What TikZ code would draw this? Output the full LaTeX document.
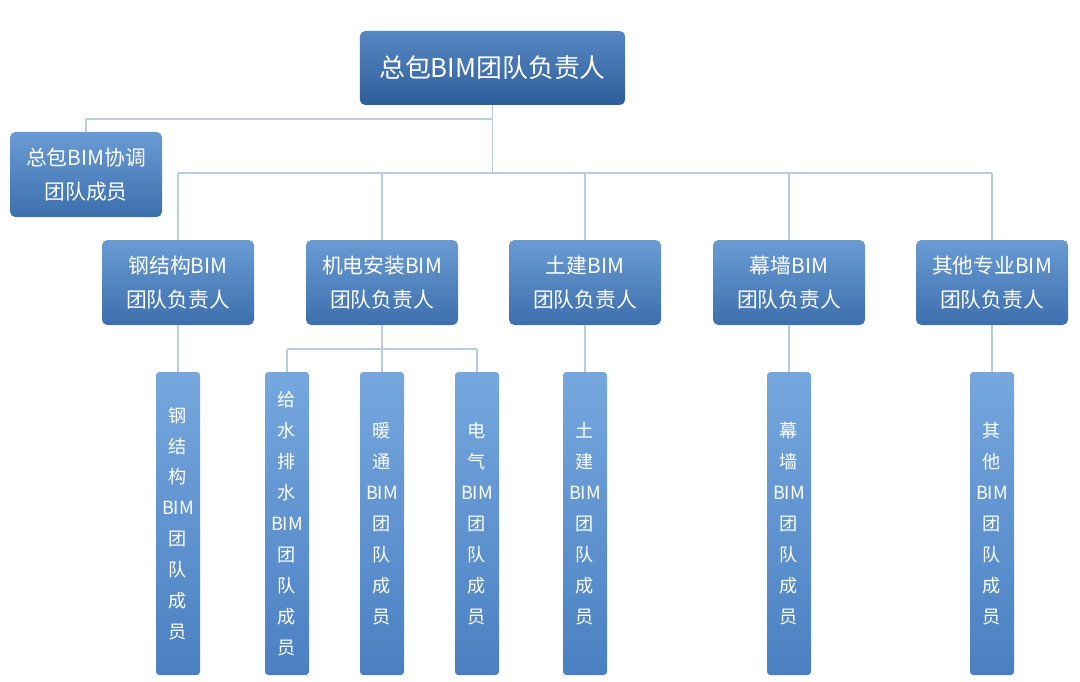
\documentclass[tikz,border=0pt]{standalone}
\usepackage{fontspec}
\usepackage{tikz}
\newfontfamily\cjk{Noto Sans CJK SC}
\definecolor{lineblue}{RGB}{184,205,224}
\definecolor{boxtop}{RGB}{106,155,211}
\definecolor{boxbot}{RGB}{60,111,173}
\definecolor{headtop}{RGB}{88,136,195}
\definecolor{headbot}{RGB}{45,94,154}
\definecolor{bartop}{RGB}{118,167,222}
\definecolor{barbot}{RGB}{74,128,194}
\tikzset{
  link/.style={draw=lineblue,line width=0.8pt},
  headbox/.style={rounded corners=4pt,top color=headtop,bottom color=headbot,draw=none,
    text=white,font=\cjk\fontsize{19.4}{26}\selectfont,minimum width=199pt,minimum height=55.5pt},
  leadbox/.style={rounded corners=4pt,top color=boxtop,bottom color=boxbot,draw=none,
    text=white,font=\cjk\fontsize{15.6}{26}\selectfont,align=center,minimum width=114pt,minimum height=63.75pt},
  memberbar/.style={rounded corners=2.5pt,top color=bartop,bottom color=barbot,draw=none,
    text=white,font=\cjk\fontsize{13.6}{23.2}\selectfont,align=center,minimum width=33pt,minimum height=227.25pt,inner sep=0pt}
}
\begin{document}
\begin{tikzpicture}[x=0.75pt,y=0.75pt,yscale=-1,xscale=1]
\useasboundingbox (0,0) rectangle (1080,681);
% Text Node
\node (head) [headbox] at (492.5,68) {总包BIM团队负责人};
% Text Node
\node (xietiao) [leadbox] at (86,174.5) {总包BIM协调\\团队成员};
% Text Node
\node (gang) [leadbox] at (178,282.5) {钢结构BIM\\团队负责人};
\node (jidian) [leadbox] at (382,282.5) {机电安装BIM\\团队负责人};
\node (tujian) [leadbox] at (585,282.5) {土建BIM\\团队负责人};
\node (muqiang) [leadbox] at (789,282.5) {幕墙BIM\\团队负责人};
\node (qita) [leadbox] at (992,282.5) {其他专业BIM\\团队负责人};
% Text Node
\node (gangm) [memberbar] at (178,523.5) {钢\\结\\构\\BIM\\团\\队\\成\\员};
\node (jishui) [memberbar] at (287,523.5) {给\\水\\排\\水\\BIM\\团\\队\\成\\员};
\node (nuantong) [memberbar] at (382,523.5) {暖\\通\\BIM\\团\\队\\成\\员};
\node (dianqi) [memberbar] at (477,523.5) {电\\气\\BIM\\团\\队\\成\\员};
\node (tujianm) [memberbar] at (585,523.5) {土\\建\\BIM\\团\\队\\成\\员};
\node (muqiangm) [memberbar] at (789,523.5) {幕\\墙\\BIM\\团\\队\\成\\员};
\node (qitam) [memberbar] at (992,523.5) {其\\他\\BIM\\团\\队\\成\\员};
%Straight Lines
\coordinate (jn) at (492.5,119);
\coordinate (busL) at (178,173);
\coordinate (busR) at (992,173);
\coordinate (mepL) at (287,349);
\coordinate (mepR) at (477,349);
\draw [link] (head.south) -- (head.south |- busL);
\draw [link] (jn) -| (xietiao.north);
\draw [link] (busL) -- (busR);
\foreach \n in {gang,jidian,tujian,muqiang,qita}
  \draw [link] (\n.north) -- (\n.north |- busL);
%Straight Lines
\draw [link] (gang.south) -- (gangm.north);
\draw [link] (jidian.south) -- (nuantong.north);
\draw [link] (mepL) -- (mepR);
\draw [link] (jishui.north) -- (mepL);
\draw [link] (dianqi.north) -- (mepR);
\draw [link] (tujian.south) -- (tujianm.north);
\draw [link] (muqiang.south) -- (muqiangm.north);
\draw [link] (qita.south) -- (qitam.north);
\end{tikzpicture}
\end{document}
